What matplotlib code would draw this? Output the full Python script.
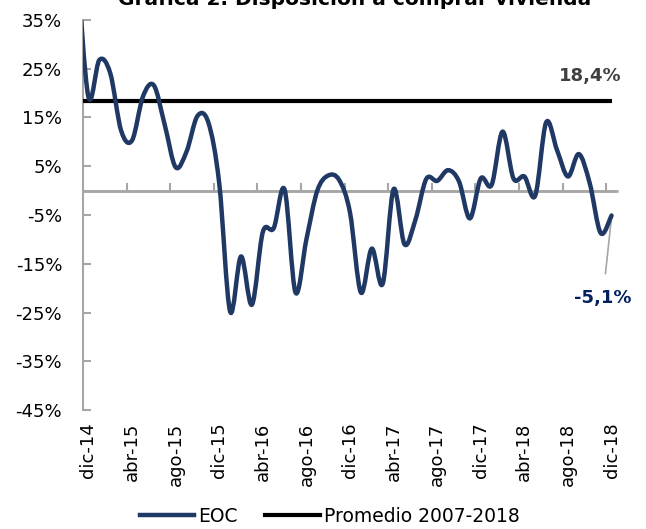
import numpy as np
import matplotlib
matplotlib.use("Agg")
import matplotlib.pyplot as plt
from matplotlib.path import Path
from matplotlib.patches import PathPatch
from matplotlib.lines import Line2D

# EOC - disposicion a comprar vivienda (balance, %), dic-14 .. dic-18
eoc = [19.2, 26.8, 24.1, 12.3, 10.3, 19.3, 21.6, 13.5, 4.8, 8.0, 15.3, 14.0, 1.5,
       -24.8, -13.5, -23.4, -8.5, -7.7, 0.2, -20.9, -10.0, 0.0, 3.1, 2.2, -4.5,
       -20.9, -11.9, -19.1, 0.3, -11.0, -6.0, 2.4, 2.0, 4.2, 1.9, -5.7, 2.5, 1.2,
       12.1, 2.5, 2.9, -1.0, 14.0, 8.3, 2.9, 7.5, 1.5, -8.7, -5.1]
# previous month (nov-14), only its clipped piece shows at the left edge
eoc_prev = 45.0
promedio = 18.4

tick_labels = ["dic-14", "abr-15", "ago-15", "dic-15", "abr-16", "ago-16", "dic-16",
               "abr-17", "ago-17", "dic-17", "abr-18", "ago-18", "dic-18"]
y_ticks = [-45, -35, -25, -15, -5, 5, 15, 25, 35]

NAVY = "#1F3864"
GRAY = "#A6A6A6"

plt.rcParams["font.family"] = ["DejaVu Sans"]


def smooth_path(xs, ys):
    # excel style smoothed line: catmull-rom turned into cubic beziers
    pts = np.column_stack([xs, ys]).astype(float)
    n = len(pts)
    verts = [pts[0]]
    codes = [Path.MOVETO]
    for i in range(n - 1):
        p0 = pts[max(i - 1, 0)]
        p1 = pts[i]
        p2 = pts[i + 1]
        p3 = pts[min(i + 2, n - 1)]
        verts += [p1 + (p2 - p0) / 6, p2 - (p3 - p1) / 6, p2]
        codes += [Path.CURVE4] * 3
    return Path(verts, codes)


fig = plt.figure(figsize=(6.46, 5.29), dpi=100)
ax = fig.add_axes([83 / 646, 1 - 410 / 529, (617 - 83) / 646, (410 - 20) / 529])

n = len(eoc)
xs = np.arange(-1, n)
ys = [eoc_prev] + eoc
ax.add_patch(PathPatch(smooth_path(xs, ys), fill=False, edgecolor=NAVY, lw=3.2,
                       joinstyle="round", capstyle="round", zorder=4))
ax.hlines(promedio, -0.5, n - 1, color="black", lw=3, zorder=3)
ax.axhline(0, color=GRAY, lw=1.8, zorder=2)

ax.set_xlim(-0.5, n - 0.5)
ax.set_ylim(-45, 35)

# left axis
ax.set_yticks(y_ticks)
ax.set_yticklabels([f"{v}%" for v in y_ticks])
ax.tick_params(axis="y", direction="in", length=6, width=1.5, color=GRAY,
               pad=15, labelsize=13)
ax.spines["left"].set_color(GRAY)
ax.spines["left"].set_linewidth(1.5)
for s in ["top", "right", "bottom"]:
    ax.spines[s].set_visible(False)

# category labels at the bottom
ax.set_xticks(np.arange(0, n, 4))
ax.set_xticklabels(tick_labels, rotation=90)
ax.tick_params(axis="x", length=0, pad=9, labelsize=13)

# tick marks on the zero line, between categories
zero_ax = ax.secondary_xaxis(45 / 80)
zero_ax.set_xticks(np.arange(-0.5, n, 4))
zero_ax.set_xticklabels([])
zero_ax.tick_params(direction="out", length=6, width=1.5, color=GRAY)
for sp in zero_ax.spines.values():
    sp.set_color(GRAY)
    sp.set_linewidth(1.8)

ax.text(46.0, 23.5, "18,4%", ha="center", va="center", fontsize=13,
        fontweight="bold", color="#404040")
ax.annotate("-5,1%", xy=(n - 1, eoc[-1] - 0.3), xytext=(47.2, -22.0),
            ha="center", va="center", fontsize=13, fontweight="bold",
            color="#002060",
            arrowprops=dict(arrowstyle="-", color=GRAY, lw=1.2,
                            shrinkA=9, shrinkB=0))

fig.text(355 / 646, 1 - 5 / 529, "Gráfica 2. Disposición a comprar vivienda",
         ha="center", va="baseline", fontsize=14.5, fontweight="bold")

handles = [Line2D([], [], color=NAVY, lw=3.2),
           Line2D([], [], color="black", lw=3)]
fig.legend(handles, ["EOC", "Promedio 2007-2018"], loc="center",
           bbox_to_anchor=(0.51, 1 - 516 / 529), ncol=2, frameon=False,
           fontsize=13.5, handlelength=2.9, handletextpad=0.2,
           columnspacing=1.5, borderpad=0)

fig.savefig("out.png", dpi=100)
